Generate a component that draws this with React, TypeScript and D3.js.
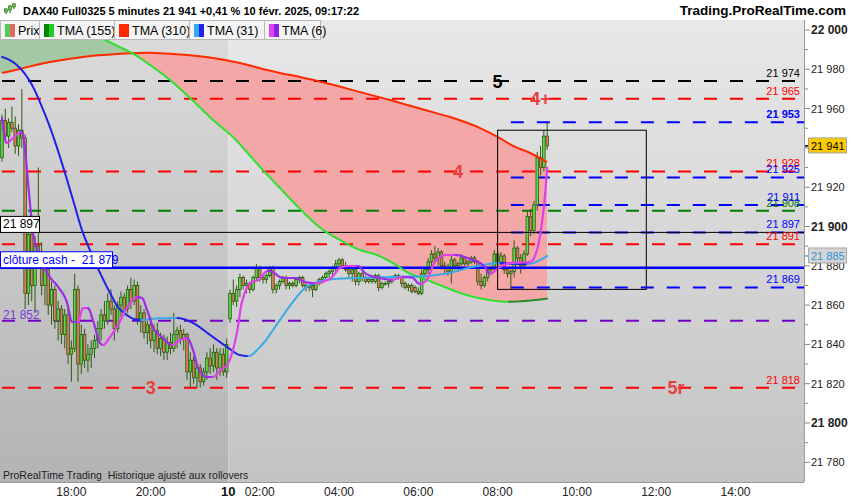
import { useRef, useEffect } from 'react';
import * as d3 from 'd3';

type Bar = [number, number, number, number]; // open, high, low, close
type Pt = [number, number]; // bar index, value

const title = 'DAX40 Full0325 5 minutes 21 941 +0,41 % 10 févr. 2025, 09:17:22';
const site = 'Trading.ProRealTime.com';
const footer = 'ProRealTime Trading  Historique ajusté aux rollovers';
const legendNames = ['Prix', 'TMA (155)', 'TMA (310)', 'TMA (31)', 'TMA (6)'];

// Friday 7 Feb, 5 minute bars 16:15 -> 21:55
const fridayStart = '16:15';
const fridayBars: Bar[] = [
    [21935, 21957, 21933, 21954], [21954, 21960, 21944, 21946], [21946, 21955, 21940, 21953], [21953, 21961, 21948, 21950],
    [21950, 21956, 21937, 21941], [21941, 21952, 21936, 21949], [21949, 21970, 21940, 21945], [21945, 21947, 21858, 21866],
    [21866, 21905, 21860, 21896], [21896, 21900, 21862, 21870], [21870, 21895, 21856, 21890], [21890, 21930, 21880, 21884],
    [21884, 21892, 21865, 21870], [21870, 21882, 21860, 21878], [21878, 21880, 21855, 21860], [21860, 21872, 21850, 21868],
    [21868, 21870, 21848, 21852], [21852, 21862, 21842, 21858], [21858, 21860, 21840, 21845], [21845, 21858, 21838, 21855],
    [21855, 21860, 21830, 21835], [21835, 21842, 21821, 21838], [21838, 21876, 21836, 21868], [21868, 21870, 21821, 21830],
    [21830, 21850, 21825, 21845], [21845, 21848, 21828, 21832], [21832, 21840, 21826, 21835], [21835, 21842, 21828, 21838],
    [21838, 21845, 21833, 21842], [21842, 21852, 21838, 21848], [21848, 21858, 21842, 21855], [21855, 21862, 21848, 21852],
    [21852, 21866, 21850, 21862], [21862, 21868, 21855, 21858], [21858, 21860, 21842, 21848], [21848, 21862, 21846, 21860],
    [21860, 21867, 21854, 21864], [21864, 21866, 21856, 21858], [21858, 21870, 21856, 21868], [21868, 21874, 21858, 21862],
    [21862, 21873, 21860, 21870], [21870, 21872, 21850, 21853], [21853, 21860, 21846, 21856], [21856, 21858, 21843, 21846],
    [21846, 21852, 21840, 21850], [21850, 21854, 21838, 21842], [21842, 21850, 21836, 21847], [21847, 21851, 21835, 21838],
    [21838, 21846, 21834, 21843], [21843, 21845, 21832, 21836], [21836, 21844, 21832, 21841], [21841, 21846, 21835, 21838],
    [21838, 21856, 21836, 21845], [21845, 21849, 21838, 21847], [21847, 21850, 21840, 21843], [21843, 21848, 21837, 21845],
    [21845, 21846, 21822, 21826], [21826, 21836, 21818, 21832], [21832, 21834, 21820, 21823], [21823, 21830, 21818, 21828],
    [21828, 21830, 21818, 21821], [21821, 21828, 21819, 21826], [21826, 21836, 21822, 21833], [21833, 21838, 21825, 21829],
    [21829, 21840, 21826, 21836], [21836, 21838, 21822, 21828], [21828, 21838, 21824, 21835], [21835, 21838, 21824, 21826],
    [21826, 21843, 21823, 21840],
];

// Monday 10 Feb, 01:15 -> 09:15
const mondayStart = '01:15';
const mondayBars: Bar[] = [
    [21853, 21868, 21851, 21866], [21866, 21873, 21860, 21862], [21862, 21870, 21859, 21868], [21868, 21876, 21864, 21874],
    [21874, 21875, 21868, 21870], [21870, 21873, 21866, 21871], [21871, 21872, 21866, 21868], [21868, 21875, 21867, 21874],
    [21874, 21881, 21872, 21879], [21879, 21880, 21872, 21874], [21874, 21876, 21871, 21873], [21873, 21876, 21871, 21875],
    [21875, 21880, 21874, 21879], [21879, 21880, 21866, 21868], [21868, 21871, 21866, 21870], [21870, 21873, 21868, 21872],
    [21872, 21875, 21871, 21874], [21874, 21875, 21868, 21870], [21870, 21872, 21868, 21871], [21871, 21872, 21869, 21870],
    [21870, 21874, 21869, 21873], [21873, 21875, 21871, 21874], [21874, 21875, 21869, 21870], [21870, 21872, 21867, 21869],
    [21869, 21871, 21867, 21870], [21870, 21871, 21864, 21868], [21868, 21872, 21867, 21871], [21871, 21874, 21870, 21873],
    [21873, 21875, 21871, 21874], [21874, 21877, 21873, 21876], [21876, 21878, 21874, 21877], [21877, 21880, 21875, 21879],
    [21879, 21883, 21877, 21881], [21881, 21884, 21879, 21883], [21883, 21884, 21879, 21880], [21880, 21882, 21877, 21878],
    [21878, 21879, 21874, 21876], [21876, 21879, 21872, 21878], [21878, 21879, 21870, 21872], [21872, 21877, 21870, 21876],
    [21876, 21877, 21872, 21874], [21874, 21875, 21871, 21872], [21872, 21874, 21871, 21873], [21873, 21874, 21871, 21872],
    [21872, 21876, 21871, 21875], [21875, 21876, 21867, 21869], [21869, 21872, 21868, 21871], [21871, 21872, 21870, 21871],
    [21871, 21873, 21869, 21872], [21872, 21875, 21871, 21874], [21874, 21876, 21873, 21875], [21875, 21876, 21873, 21874],
    [21874, 21875, 21869, 21871], [21871, 21872, 21868, 21869], [21869, 21871, 21867, 21870], [21870, 21871, 21866, 21867],
    [21869, 21870, 21866, 21867], [21867, 21869, 21865, 21866], [21866, 21878, 21865, 21876], [21876, 21879, 21874, 21878],
    [21878, 21884, 21876, 21882], [21882, 21888, 21880, 21886], [21886, 21890, 21882, 21884], [21884, 21889, 21880, 21887],
    [21887, 21888, 21878, 21880], [21880, 21882, 21876, 21879], [21879, 21881, 21875, 21877], [21877, 21885, 21871, 21883],
    [21883, 21884, 21878, 21880], [21880, 21882, 21877, 21881], [21881, 21886, 21880, 21884], [21884, 21885, 21880, 21881],
    [21881, 21883, 21880, 21882], [21882, 21885, 21881, 21884], [21884, 21885, 21881, 21882], [21882, 21883, 21870, 21872],
    [21872, 21876, 21868, 21870], [21870, 21875, 21869, 21874], [21874, 21879, 21872, 21878], [21878, 21880, 21876, 21879],
    [21879, 21888, 21877, 21886], [21886, 21887, 21879, 21881], [21881, 21887, 21879, 21885], [21885, 21886, 21876, 21878],
    [21878, 21879, 21874, 21876], [21876, 21878, 21868, 21877], [21877, 21893, 21874, 21889], [21889, 21890, 21882, 21884],
    [21884, 21886, 21876, 21880], [21880, 21888, 21878, 21886], [21886, 21908, 21885, 21905], [21905, 21909, 21895, 21898],
    [21898, 21913, 21896, 21911], [21911, 21938, 21908, 21935], [21935, 21941, 21926, 21930], [21930, 21949, 21928, 21946],
    [21946, 21953, 21939, 21941],
];

// moving averages: [bar index, value]
const tma310: Pt[] = [
    [0, 21978.1], [5.4, 21980.2], [14.5, 21983.7], [24.5, 21986.3], [34.8, 21987.8], [39.6, 21988.2], [44, 21988.4],
    [48, 21988.2], [56, 21987.3], [63.9, 21985.8], [72, 21983.2], [80.2, 21979.6], [84.1, 21978.1], [90.2, 21976.1],
    [99.3, 21972.5], [108.4, 21968.4], [117.4, 21964.4], [128, 21959.3], [135.6, 21955.7], [144.7, 21950.1],
    [150.1, 21945.5], [154.7, 21941], [159.8, 21937.4], [165, 21932.8],
];
const tma155: Pt[] = [
    [0, 22013.7], [9, 22008.7], [17.6, 22004], [30.6, 21995.4], [35.7, 21991.3], [39.3, 21988.3], [44.8, 21982.2],
    [50.8, 21974.6], [56.9, 21965.4], [63.9, 21954.2], [69.9, 21945.5], [78.1, 21930.3], [84.1, 21919.6], [90.2, 21908.9],
    [97.2, 21898.2], [102.3, 21893.1], [108.4, 21888], [113.5, 21885.5], [118.3, 21881.4], [122.6, 21876.8],
    [128.6, 21872.8], [134.7, 21868.7], [140.7, 21865.1], [146.8, 21862.8], [153, 21861.7], [159, 21862.2], [165, 21863.3],
];
const tma31: Pt[] = [
    [0, 21986.3], [3.3, 21983.7], [6, 21979.6], [9.4, 21971], [12.1, 21960.8], [14.5, 21950.6], [18.5, 21930.3],
    [21.5, 21913.5], [24.2, 21898.2], [26.6, 21888], [29.7, 21876.3], [32.7, 21866.2], [35.1, 21859], [36.6, 21856.5],
    [41.8, 21852.4], [47.8, 21853.3], [53, 21853.4], [57.8, 21850.9], [63, 21844.8], [68.1, 21838.7], [72, 21834.6],
    [74.5, 21834.1], [78.1, 21838.7], [84.1, 21852.4], [87.8, 21861.1], [91.7, 21868.7], [95.6, 21871.8],
    [100.8, 21873.3], [107.7, 21873.8], [118, 21874.3], [128, 21874.8], [133.5, 21875.8], [143.8, 21879.9],
    [150.7, 21881.4], [155, 21881], [158.9, 21880.9], [165, 21885],
];
const tma6: Pt[] = [
    [0, 21955.2], [1.4, 21942.5], [3.3, 21945], [6, 21948.1], [7, 21938.9], [7.9, 21922.1], [9.4, 21896.7],
    [10.9, 21886.5], [14.5, 21874.3], [17, 21869.2], [19.7, 21861.1], [21.2, 21851.4], [23, 21851.4], [24.5, 21858.5],
    [26, 21858.5], [27.5, 21852.4], [29.7, 21840.7], [30.6, 21839.7], [32.7, 21843.8], [35.1, 21849.9], [37.8, 21858.5],
    [40.9, 21864.1], [42.4, 21863.6], [43.9, 21857.5], [45.7, 21848.9], [48.7, 21843.3], [51.5, 21839.7], [53.9, 21842.2],
    [56, 21843.3], [57.8, 21837.2], [59.3, 21828.5], [62, 21823.4], [63.9, 21823.4], [66, 21827], [68.1, 21829.5],
    [69.9, 21837.2], [71.4, 21848.9], [72.3, 21859], [73.5, 21866.2], [75.1, 21871.2], [77.5, 21872.8], [80.5, 21877.4],
    [82, 21876.8], [84.1, 21874.3], [85.7, 21873.8], [88.7, 21873.8], [91.7, 21871.8], [94.7, 21871.2], [96.9, 21871.8],
    [99.9, 21874.3], [102.3, 21878.9], [104.7, 21879.9], [107.7, 21879.9], [109.9, 21876.3], [112.9, 21874.3],
    [115.9, 21873.3], [118, 21872.8], [121.1, 21874.3], [124.1, 21874], [126.5, 21870.7], [128.9, 21873.8],
    [131, 21881.9], [134.1, 21885.5], [137.1, 21885.5], [141.6, 21883.5], [146.2, 21879.4], [147.7, 21875.8],
    [149.8, 21878.4], [153.8, 21881.4], [159.8, 21881.9], [161.9, 21888], [163.4, 21901.8], [164.3, 21915], [165, 21930],
];

// drawn levels
const blackLevels = [21974];
const redLevels = [21965, 21928, 21891, 21818];
const blueLevels = [21953, 21925, 21911, 21897, 21869];
const greenLevels = [21908];
const purpleLevels = [21852];
const blueLevelsFrom = '08:20';
const referenceLevel = 21897;
const cashClose = 21879;
const lastPrice = 21941;
const tma31Last = 21885;
const rangeBox = { from: '08:00', to: '11:45', high: 21949, low: 21868 };
const waveMarks = [
    { text: '5', value: 21974, day: 'mon', time: '08:00' },
    { text: '4+', value: 21965, day: 'mon', time: '09:05' },
    { text: '4', value: 21928, day: 'mon', time: '07:00' },
    { text: '3', value: 21818, day: 'fri', time: '20:00' },
    { text: '5r', value: 21818, day: 'mon', time: '12:30' },
];
const timeTicks = [
    { label: '18:00', day: 'fri' }, { label: '20:00', day: 'fri' }, { label: '02:00', day: 'mon' },
    { label: '04:00', day: 'mon' }, { label: '06:00', day: 'mon' }, { label: '08:00', day: 'mon' },
    { label: '10:00', day: 'mon' }, { label: '12:00', day: 'mon' }, { label: '14:00', day: 'mon' },
];

const FONT = '"Liberation Sans", Arial, Helvetica, sans-serif';
const fmt = (v: number) => d3.format(',')(v).replace(',', ' ');
const minutes = (hm: string) => { const [h, m] = hm.split(':').map(Number); return h * 60 + m; };

export default function App() {
    const svgRef = useRef<SVGSVGElement>(null);

    useEffect(() => {
        if (!svgRef.current) return;
        const svg = d3.select(svgRef.current);
        svg.selectAll('*').remove();

        const right = 804;
        const top = 40;
        const bottom = 482;

        const bars = [...fridayBars, ...mondayBars];
        const lastBar = bars.length - 1;
        const barOf = (day: string, hm: string) => day === 'fri'
            ? (minutes(hm) - minutes(fridayStart)) / 5
            : fridayBars.length + (minutes(hm) - minutes(mondayStart)) / 5;

        const x = d3.scaleLinear().domain([0, 243]).range([2, 804.9]);
        const y = d3.scaleLinear().domain([21780, 22000]).range([462.3, 30]);
        const dayBreak = x(fridayBars.length - 0.5);

        const defs = svg.append('defs');
        const grad = (id: string, c0: string, c1: string) => {
            const lg = defs.append('linearGradient').attr('id', id)
                .attr('x1', 0).attr('y1', 0).attr('x2', 0).attr('y2', 1);
            lg.append('stop').attr('offset', '0%').attr('stop-color', c0);
            lg.append('stop').attr('offset', '100%').attr('stop-color', c1);
        };
        grad('bg-left', '#dcdcdc', '#b3b3b3');
        grad('bg-right', '#e8e8e8', '#c3c3c3');
        defs.append('clipPath').attr('id', 'plot-clip')
            .append('rect').attr('x', 0).attr('y', top).attr('width', right).attr('height', bottom - top);

        // page + backgrounds
        svg.append('rect').attr('width', 850).attr('height', 500).attr('fill', '#ffffff');
        svg.append('rect').attr('x', 0).attr('y', 20).attr('width', dayBreak).attr('height', bottom - 20)
            .attr('fill', 'url(#bg-left)');
        svg.append('rect').attr('x', dayBreak).attr('y', 20).attr('width', right - dayBreak).attr('height', bottom - 20)
            .attr('fill', 'url(#bg-right)');

        const g = svg.append('g').attr('clip-path', 'url(#plot-clip)');
        const line = d3.line<Pt>().x(d => x(d[0])).y(d => y(d[1])).curve(d3.curveMonotoneX);

        // fill between TMA 155 and TMA 310
        const region = (pts: Pt[], edge: number) => {
            const d = line(pts)!;
            return `M0,${y(pts[0][1])}L${d.slice(1)}L${x(lastBar)},${edge}L0,${edge}Z`;
        };
        defs.append('clipPath').attr('id', 'below-red').append('path').attr('d', region(tma310, 700));
        defs.append('clipPath').attr('id', 'above-red').append('path').attr('d', region(tma310, -200));
        defs.append('clipPath').attr('id', 'below-green').append('path').attr('d', region(tma155, 700));
        defs.append('clipPath').attr('id', 'above-green').append('path').attr('d', region(tma155, -200));
        g.append('g').attr('clip-path', 'url(#below-red)')
            .append('rect').attr('clip-path', 'url(#above-green)')
            .attr('x', 0).attr('y', 0).attr('width', x(lastBar)).attr('height', 500).attr('fill', '#f4a7a7');
        g.append('g').attr('clip-path', 'url(#above-red)')
            .append('rect').attr('clip-path', 'url(#below-green)')
            .attr('x', 0).attr('y', 0).attr('width', x(lastBar)).attr('height', 500).attr('fill', '#a5c9a3');

        // dashed levels
        const dashed = (values: number[], color: string, from: number) => {
            values.forEach(v => {
                g.append('line').attr('x1', from).attr('x2', right).attr('y1', y(v)).attr('y2', y(v))
                    .attr('stroke', color).attr('stroke-width', 2).attr('stroke-dasharray', '13,13');
            });
        };
        dashed(blackLevels, '#000000', 2);
        dashed(redLevels, '#ff0000', 2);
        dashed(greenLevels, '#008000', 2);
        dashed(purpleLevels, '#7000c8', 2);
        dashed(blueLevels, '#0000ff', x(barOf('mon', blueLevelsFrom)));

        // candles
        const wick = '#2b5a0e';
        bars.forEach(([o, h, l, c], i) => {
            const cx = x(i);
            g.append('line').attr('x1', cx).attr('x2', cx).attr('y1', y(h)).attr('y2', y(l))
                .attr('stroke', wick).attr('stroke-width', 1);
            const y0 = Math.min(y(o), y(c));
            g.append('rect').attr('x', cx - 1.3).attr('y', y0).attr('width', 2.6)
                .attr('height', Math.max(1, Math.abs(y(o) - y(c))))
                .attr('fill', c >= o ? '#5fd64f' : '#e07a62').attr('stroke', wick).attr('stroke-width', 0.8);
        });

        // reference line and cash close
        g.append('line').attr('x1', 0).attr('x2', right).attr('y1', y(referenceLevel)).attr('y2', y(referenceLevel))
            .attr('stroke', '#000').attr('stroke-width', 1);
        g.append('line').attr('x1', 0).attr('x2', right).attr('y1', y(cashClose)).attr('y2', y(cashClose))
            .attr('stroke', '#0000ff').attr('stroke-width', 2.5);

        // moving averages, coloured by slope
        const twoTone = (pts: Pt[], up: string, down: string, width: number) => {
            const tmp = g.append('path').attr('d', line(pts)!).attr('fill', 'none');
            const node = tmp.node()!;
            const total = node.getTotalLength();
            const samples: [number, number][] = [];
            for (let s = 0; s < total; s += 0.75) {
                const p = node.getPointAtLength(s);
                samples.push([p.x, p.y]);
            }
            const end = node.getPointAtLength(total);
            samples.push([end.x, end.y]);
            tmp.remove();
            let run = [samples[0]];
            let rising: boolean | null = null;
            const flush = () => {
                if (run.length < 2) return;
                g.append('path').attr('d', d3.line()(run)!).attr('fill', 'none')
                    .attr('stroke', rising ? up : down).attr('stroke-width', width)
                    .attr('stroke-linecap', 'round').attr('stroke-linejoin', 'round');
            };
            for (let k = 1; k < samples.length; k++) {
                const dy = samples[k][1] - samples[k - 1][1];
                const r = dy < -0.01 ? true : dy > 0.01 ? false : rising;
                if (rising === null) rising = r;
                if (r !== rising) {
                    flush();
                    run = [samples[k - 1]];
                    rising = r;
                }
                run.push(samples[k]);
            }
            flush();
        };
        g.append('path').attr('d', line(tma310)!).attr('fill', 'none')
            .attr('stroke', '#ff2a00').attr('stroke-width', 2);
        twoTone(tma155, '#2a8a2a', '#2ee02e', 2);
        twoTone(tma31, '#3aa8ea', '#2020e6', 2);
        twoTone(tma6, '#e040e8', '#9a2ee8', 2.2);

        // range box
        const bx0 = x(barOf('mon', rangeBox.from));
        const bx1 = x(barOf('mon', rangeBox.to));
        g.append('rect').attr('x', bx0).attr('y', y(rangeBox.high)).attr('width', bx1 - bx0)
            .attr('height', y(rangeBox.low) - y(rangeBox.high)).attr('fill', 'none').attr('stroke', '#000').attr('stroke-width', 1);

        // wave marks
        waveMarks.forEach(m => {
            g.append('text').attr('x', x(barOf(m.day, m.time))).attr('y', y(m.value)).attr('dy', '0.36em')
                .attr('text-anchor', 'middle').attr('font-family', FONT).attr('font-size', 18).attr('font-weight', 'bold')
                .attr('fill', m.text === '5' ? '#000000' : '#e84040').text(m.text);
        });

        // level labels on the right of the plot
        const levelLabel = (v: number, color: string, bold = false) => {
            g.append('text').attr('x', 800).attr('y', y(v) - 4).attr('text-anchor', 'end')
                .attr('font-family', FONT).attr('font-size', 11).attr('font-weight', bold ? 'bold' : 'normal')
                .attr('fill', color).text(fmt(v));
        };
        blackLevels.forEach(v => levelLabel(v, '#000000'));
        redLevels.forEach(v => levelLabel(v, '#ff0000'));
        greenLevels.forEach(v => levelLabel(v, '#008000'));
        blueLevels.forEach((v, i) => levelLabel(v, '#0000ff', i === 0));

        // left labels
        const ry = y(referenceLevel);
        g.append('rect').attr('x', 0.5).attr('y', ry - 16).attr('width', 39).attr('height', 16)
            .attr('fill', '#fff').attr('stroke', '#000');
        g.append('text').attr('x', 3).attr('y', ry - 4).attr('font-family', FONT).attr('font-size', 12)
            .attr('fill', '#000').text(fmt(referenceLevel));
        const cy = y(cashClose);
        g.append('rect').attr('x', 0.5).attr('y', cy - 16).attr('width', 112).attr('height', 16)
            .attr('fill', '#fff').attr('stroke', '#0000ff');
        g.append('text').attr('x', 3).attr('y', cy - 4).attr('font-family', FONT).attr('font-size', 12)
            .attr('fill', '#0000ff').style('white-space', 'pre').text(`clôture cash -  ${fmt(cashClose)}`);
        purpleLevels.forEach(v => {
            g.append('text').attr('x', 3).attr('y', y(v) - 2).attr('font-family', FONT).attr('font-size', 12)
                .attr('fill', '#7a3ad6').text(fmt(v));
        });

        // right axis
        svg.append('rect').attr('x', right).attr('y', 20).attr('width', 850 - right).attr('height', 480).attr('fill', '#fff');
        svg.append('line').attr('x1', right + 0.5).attr('x2', right + 0.5).attr('y1', 20).attr('y2', bottom)
            .attr('stroke', '#9a9a9a');
        d3.range(21780, 22001, 10).forEach(v => {
            const major = v % 20 === 0;
            const hundred = v % 100 === 0;
            svg.append('line').attr('x1', right + 1).attr('x2', right + (major ? 6 : 4)).attr('y1', y(v)).attr('y2', y(v))
                .attr('stroke', '#888');
            // the last-price tag hides the label it sits on
            if (major && Math.abs(y(v) - y(lastPrice)) > 6) {
                svg.append('text').attr('x', 811).attr('y', y(v)).attr('dy', '0.36em')
                    .attr('font-family', FONT).attr('font-size', hundred ? 12 : 11)
                    .attr('font-weight', hundred ? 'bold' : 'normal').attr('fill', '#222').text(fmt(v));
            }
        });
        const tag = (v: number, fill: string, stroke: string, color: string, tick: string) => {
            svg.append('line').attr('x1', right + 1).attr('x2', right + 5).attr('y1', y(v)).attr('y2', y(v))
                .attr('stroke', tick).attr('stroke-width', 1.5);
            svg.append('rect').attr('x', 808.5).attr('y', y(v) - 8).attr('width', 38).attr('height', 15)
                .attr('fill', fill).attr('stroke', stroke);
            svg.append('text').attr('x', 811).attr('y', y(v)).attr('dy', '0.36em').attr('font-family', FONT)
                .attr('font-size', 11).attr('fill', color).text(fmt(v));
        };
        tag(lastPrice, '#ffcc00', '#a0a0a0', '#000', '#000');
        tag(tma31Last, '#d4d4d4', '#a8a8a8', '#2f95d8', '#3aa8ea');

        // bottom axis
        svg.append('rect').attr('x', 0).attr('y', bottom).attr('width', 850).attr('height', 500 - bottom).attr('fill', '#fff');
        svg.append('line').attr('x1', 0).attr('x2', right).attr('y1', bottom + 0.5).attr('y2', bottom + 0.5)
            .attr('stroke', '#9a9a9a');
        timeTicks.forEach(t => {
            svg.append('text').attr('x', x(barOf(t.day, t.label))).attr('y', 496).attr('text-anchor', 'middle')
                .attr('font-family', FONT).attr('font-size', 12).attr('fill', '#222').text(t.label);
        });
        svg.append('text').attr('x', dayBreak).attr('y', 496).attr('text-anchor', 'middle')
            .attr('font-family', FONT).attr('font-size', 13).attr('font-weight', 'bold').attr('fill', '#111').text('10');
        svg.append('text').attr('x', 3).attr('y', 479).attr('font-family', FONT).attr('font-size', 10.5)
            .attr('fill', '#222').style('white-space', 'pre').text(footer);

        // title bar
        svg.append('rect').attr('x', 0).attr('y', 0).attr('width', 850).attr('height', 20).attr('fill', '#fff');
        [[6, 8, 14, 9, 12], [10, 5, 13, 6, 10], [14, 3, 9, 4, 7]].forEach(([cx, t, b, bt, bb]) => {
            svg.append('line').attr('x1', cx).attr('x2', cx).attr('y1', t).attr('y2', b).attr('stroke', '#2b5a0e');
            svg.append('rect').attr('x', cx - 1.5).attr('y', bt).attr('width', 3).attr('height', bb - bt)
                .attr('fill', '#5fd64f').attr('stroke', '#2b5a0e').attr('stroke-width', 0.6);
        });
        svg.append('text').attr('x', 23).attr('y', 15).attr('font-family', FONT).attr('font-size', 11)
            .attr('font-weight', 'bold').attr('fill', '#000').text(title);
        svg.append('text').attr('x', 846).attr('y', 15).attr('text-anchor', 'end').attr('font-family', FONT)
            .attr('font-size', 13.5).attr('font-weight', 'bold').attr('fill', '#000').text(site);

        // legend tabs
        const tabWidths = [39, 75, 75, 75, 56];
        const swatches = [
            ['#55cc55', '#e06a60'], ['#008800', '#22cc22'], ['#ff2a00', '#ff2a00'],
            ['#33aaee', '#2222ee'], ['#dd44ee', '#8822ee'],
        ];
        let tx = 0;
        legendNames.forEach((name, i) => {
            const w = tabWidths[i];
            svg.append('rect').attr('x', tx + 0.5).attr('y', 20.5).attr('width', w).attr('height', 19)
                .attr('fill', '#f4f4f4').attr('stroke', '#b8b8b8');
            svg.append('rect').attr('x', tx + 5).attr('y', 24).attr('width', 5).attr('height', 13).attr('fill', swatches[i][0]);
            svg.append('rect').attr('x', tx + 10).attr('y', 24).attr('width', 5).attr('height', 13).attr('fill', swatches[i][1]);
            svg.append('text').attr('x', tx + 18).attr('y', 35).attr('font-family', FONT).attr('font-size', 12.5)
                .attr('fill', '#000').text(name);
            tx += w;
        });
    }, []);

    return (
        <svg ref={svgRef} width={850} height={500}
            style={{ position: 'absolute', left: 0, top: 0, display: 'block' }} />
    );
}
